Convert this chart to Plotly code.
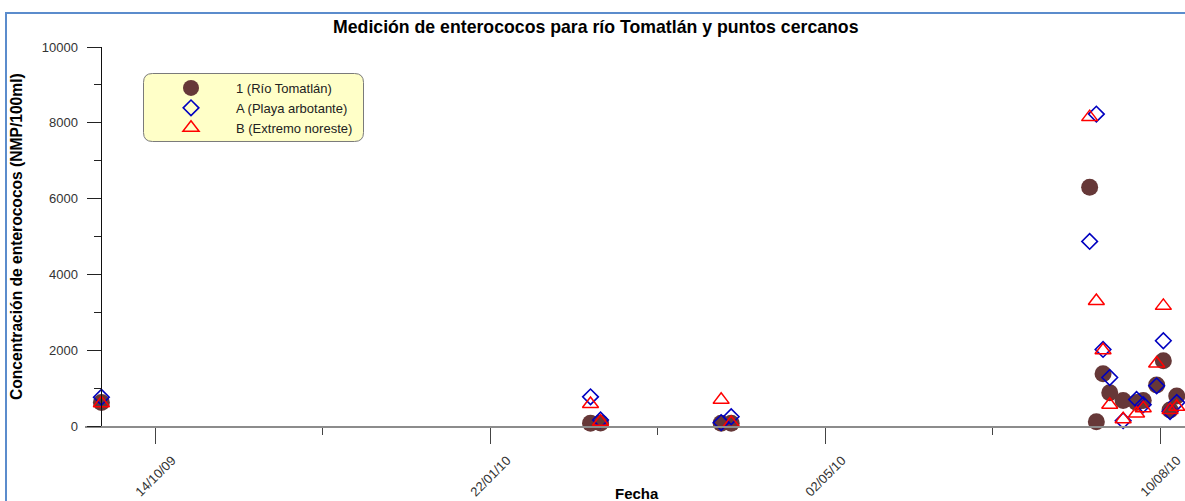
import pandas as pd
import plotly.graph_objects as go

# Fechas de muestreo
fechas = ["2009-09-28", "2010-02-21", "2010-02-24", "2010-04-01", "2010-04-04",
          "2010-07-20", "2010-07-22", "2010-07-24", "2010-07-26", "2010-07-30",
          "2010-08-03", "2010-08-05", "2010-08-09", "2010-08-11", "2010-08-13",
          "2010-08-15"]

# Enterococos (NMP/100ml) por punto de muestreo
rio_tomatlan = [620, 70, 80, 70, 70, 6300, 110, 1380, 880, 670, 620, 670, 1080,
                1720, 420, 790]
playa_arbotante = [760, 770, 160, 90, 245, 4870, 8230, 2020, 1280, 140, 700, 560,
                   1060, 2250, 380, 620]
extremo_noreste = [600, 580, 110, 690, 80, 8150, 3300, 2000, 560, 180, 330, 470,
                   1650, 3170, 420, 510]

nombres = ["1 (Río Tomatlán)", "A (Playa arbotante)", "B (Extremo noreste)"]
y_ticks = [0, 2000, 4000, 6000, 8000, 10000]

W, H = 1185, 501
L, R, T, B = 85, 0, 47, 75
PW, PH = W - L - R, H - T - B

def px_x(p):
    return (p - L) / PW

def px_y(p):
    return (H - B - p) / PH

FONT = "Liberation Sans, Arial, sans-serif"
DAY = 86400000
t0 = pd.Timestamp("2009-10-14")
px_per_day = 3.35
x_lo = t0 + pd.Timedelta(days=(L - 155) / px_per_day)
x_hi = t0 + pd.Timedelta(days=(W - 155) / px_per_day)

fig = go.Figure()
fig.add_trace(go.Scatter(
    x=fechas, y=rio_tomatlan, mode="markers", name=nombres[0], cliponaxis=False,
    marker=dict(symbol="circle", size=17, color="#663838",
                line=dict(width=0))))
fig.add_trace(go.Scatter(
    x=fechas, y=playa_arbotante, mode="markers", name=nombres[1], cliponaxis=False,
    marker=dict(symbol="diamond-open", size=12, color="#0000c0",
                line=dict(width=1.6, color="#0000c0"))))
fig.add_trace(go.Scatter(
    x=fechas, y=extremo_noreste, mode="markers", name=nombres[2], cliponaxis=False,
    marker=dict(symbol="triangle-up-open", size=14, color="#ff0000",
                line=dict(width=1.5, color="#ff0000"))))

tickfont = dict(family=FONT, size=13, color="#333333")

fig.update_layout(
    width=W, height=H,
    margin=dict(l=L, r=R, t=T, b=B, pad=0),
    paper_bgcolor="white", plot_bgcolor="white",
    showlegend=True,
    legend=dict(
        x=px_x(146), y=px_y(73), xanchor="left", yanchor="top",
        bgcolor="rgba(0,0,0,0)", borderwidth=0, itemwidth=80,
        font=dict(family=FONT, size=13, color="#222222"),
        tracegroupgap=0,
    ),
    xaxis=dict(
        type="date", range=[x_lo, x_hi], domain=[0, 1], anchor="y",
        tickmode="linear", tick0="2009-10-14", dtick=100 * DAY,
        tickformat="%d/%m/%y", tickangle=-45,
        ticks="outside", ticklen=16, tickwidth=1, tickcolor="#444444",
        showline=True, linecolor="#8c8c8c", linewidth=1.5,
        showgrid=False, zeroline=False,
        minor=dict(tick0="2009-10-14", dtick=50 * DAY, ticks="outside",
                   ticklen=7, tickwidth=1, tickcolor="#444444", showgrid=False),
        tickfont=tickfont, ticklabelshift=17, ticklabelstandoff=4,
    ),
    yaxis=dict(
        range=[0, 10000], domain=[0, 1], anchor="free", position=px_x(100.5),
        tickmode="array", tickvals=y_ticks, ticktext=[str(v) for v in y_ticks],
        ticks="outside", ticklen=14, tickwidth=1, tickcolor="#222222",
        showline=True, linecolor="#111111", linewidth=1,
        showgrid=False, zeroline=False,
        minor=dict(dtick=1000, tick0=0, ticks="outside", ticklen=7, tickwidth=1,
                   tickcolor="#222222", showgrid=False),
        tickfont=tickfont, ticklabelstandoff=6,
    ),
)

# Marco exterior y caja redondeada de la leyenda
fig.add_shape(type="rect", xref="paper", yref="paper",
              x0=px_x(6), x1=px_x(1200), y0=px_y(13), y1=px_y(520),
              line=dict(color="#5b8ccc", width=2), fillcolor="rgba(0,0,0,0)",
              layer="below")

bx0, bx1, by0, by1, rad = 143.5, 363.5, 73.5, 141.5, 9
def pt(px, py):
    return f"{px_x(px):.6f},{px_y(py):.6f}"
path = (f"M {pt(bx0 + rad, by0)} L {pt(bx1 - rad, by0)} "
        f"Q {pt(bx1, by0)} {pt(bx1, by0 + rad)} L {pt(bx1, by1 - rad)} "
        f"Q {pt(bx1, by1)} {pt(bx1 - rad, by1)} L {pt(bx0 + rad, by1)} "
        f"Q {pt(bx0, by1)} {pt(bx0, by1 - rad)} L {pt(bx0, by0 + rad)} "
        f"Q {pt(bx0, by0)} {pt(bx0 + rad, by0)} Z")
fig.add_shape(type="path", xref="paper", yref="paper", path=path,
              line=dict(color="#7a7a7a", width=1), fillcolor="#ffffc8",
              layer="below")

# Títulos
fig.add_annotation(text="<b>Medición de enterococos para río Tomatlán y puntos cercanos</b>",
                   xref="paper", yref="paper", x=px_x(595.5), y=px_y(27),
                   xanchor="center", yanchor="middle", showarrow=False,
                   font=dict(family=FONT, size=17.7, color="black"))
fig.add_annotation(text="<b>Concentración de enterococos (NMP/100ml)</b>",
                   xref="paper", yref="paper", x=px_x(16.5), y=px_y(236.5),
                   xanchor="center", yanchor="middle", showarrow=False,
                   textangle=-90,
                   font=dict(family=FONT, size=15.6, color="black"))
fig.add_annotation(text="<b>Fecha</b>",
                   xref="paper", yref="paper", x=px_x(637), y=px_y(493),
                   xanchor="center", yanchor="middle", showarrow=False,
                   font=dict(family=FONT, size=15, color="black"))

fig.write_html("out.html")
